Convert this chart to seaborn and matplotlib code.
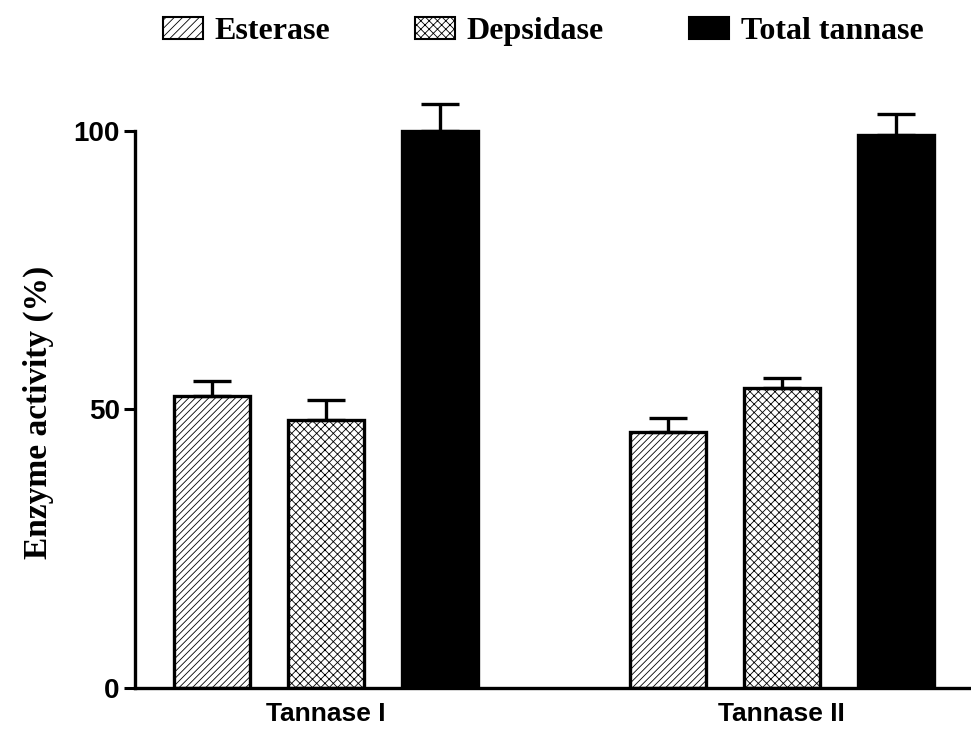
import matplotlib
matplotlib.use("Agg")
import matplotlib.pyplot as plt
from matplotlib.patches import Patch
import numpy as np
import pandas as pd
import seaborn as sns

# Relative activity of the two purified tannases (mean, upper SD)
groups = ["Tannase I", "Tannase II"]
activities = ["Esterase", "Depsidase", "Total tannase"]
esterase = [52.4, 46.0]
depsidase = [48.1, 53.9]
total_tannase = [100.0, 99.3]
esterase_sd = [2.7, 2.5]
depsidase_sd = [3.6, 1.8]
total_sd = [4.8, 3.8]

values = [esterase, depsidase, total_tannase]
errors = [esterase_sd, depsidase_sd, total_sd]

df = pd.DataFrame({
    "group": [g for _ in activities for g in groups],
    "activity": [a for a in activities for _ in groups],
    "value": [v for vals in values for v in vals],
})

sns.set_style("ticks")
plt.rcParams["hatch.linewidth"] = 0.6
plt.rcParams["hatch.color"] = "black"
plt.rcParams["text.color"] = "black"

fig = plt.figure(figsize=(9.71, 7.3), dpi=100)
ax = fig.add_axes([0.139, 0.0575, 0.875, 0.809])

face = {"Esterase": "white", "Depsidase": "white", "Total tannase": "black"}
hatches = ["/////", "xxxx", ""]

sns.barplot(data=df, x="group", y="value", hue="activity", order=groups,
            hue_order=activities, palette=face, width=0.75, gap=0.333,
            edgecolor="black", linewidth=2.4, errorbar=None, legend=False, ax=ax)

for cont, h, err in zip(ax.containers, hatches, errors):
    xs, tops = [], []
    for bar in cont:
        bar.set_hatch(h)
        bar.set_edgecolor("black")
        xs.append(bar.get_x() + bar.get_width() / 2)
        tops.append(bar.get_height())
    ax.errorbar(xs, tops, yerr=[np.zeros(len(err)), err], fmt="none",
                ecolor="black", elinewidth=2.4, capsize=14, capthick=2.4,
                clip_on=False, zorder=1)

ax.set_xlim(-0.419, 1.445)
ax.set_ylim(0, 106)
ax.set_yticks([0, 50, 100])
ax.spines["left"].set_bounds(0, 100)
for s in ["top", "right"]:
    ax.spines[s].set_visible(False)
for s in ["left", "bottom"]:
    ax.spines[s].set_linewidth(2.4)
    ax.spines[s].set_color("black")

ax.tick_params(axis="y", length=8, width=2.2, labelsize=20, pad=3,
               colors="black")
ax.tick_params(axis="x", length=0, labelsize=19, pad=10, colors="black")
for lab in ax.get_yticklabels() + ax.get_xticklabels():
    lab.set_fontfamily("Liberation Sans")
    lab.set_fontweight("bold")

ax.set_xlabel("")
ax.set_ylabel("Enzyme activity (%)", fontsize=24, fontweight="bold",
              fontfamily="Liberation Serif", color="black")
ax.yaxis.set_label_coords(-0.095, 0.467)

handles = [Patch(facecolor=face[a], edgecolor="black", hatch=h, linewidth=1.5)
           for a, h in zip(activities, ["////", "xxxx", ""])]
fig.legend(handles, activities, loc="center left",
           bbox_to_anchor=(163 / 971, 0.957), borderpad=0, borderaxespad=0,
           ncol=3, frameon=False, handlelength=1.25, handleheight=0.7,
           handletextpad=0.37, columnspacing=2.65, labelcolor="black",
           prop={"family": "Liberation Serif", "weight": "bold", "size": 23})

fig.savefig("out.png", dpi=100)
